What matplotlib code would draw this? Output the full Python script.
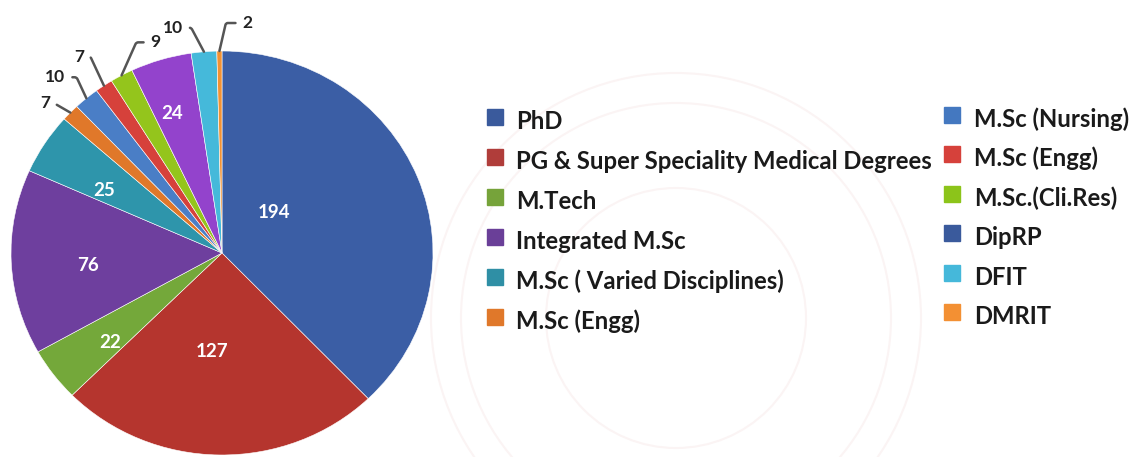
import numpy as np
import matplotlib.pyplot as plt
from matplotlib.patches import Rectangle, Circle

plt.rcParams['font.family'] = ['Lato', 'DejaVu Sans']

# slices, clockwise from 12 o'clock
values = [194, 127, 22, 76, 25, 7, 10, 7, 9, 24, 10, 2]
slice_colors = ['#3b5ea5', '#b5352e', '#74a83a', '#6e3f9e', '#2e95ab', '#e0782a',
                '#4a7ec6', '#d6413b', '#94c51c', '#9343cc', '#45b9da', '#f29233']

legend_left = ['PhD', 'PG & Super Speciality Medical Degrees', 'M.Tech',
               'Integrated M.Sc', 'M.Sc ( Varied Disciplines)', 'M.Sc (Engg)']
legend_left_colors = ['#3a5a9c', '#b03d3a', '#76a33a', '#6a3f98', '#2f8fa5', '#e0782a']
legend_right = ['M.Sc (Nursing)', 'M.Sc (Engg)', 'M.Sc.(Cli.Res)', 'DipRP', 'DFIT', 'DMRIT']
legend_right_colors = ['#4478c0', '#d6413b', '#8cc41a', '#3a5a9c', '#45b8da', '#f39033']

# which slices get the number inside, and which get a leader line
inside_idx = [0, 1, 2, 3, 4, 9]
inside_pos = [(0.32, 17), (0.49, -5), (0.69, 3), (0.64, 3), (0.64, 4), (0.73, 2)]  # radius, angle nudge
outside_idx = [5, 6, 7, 8, 10, 11]
outside_off = [(-25, 10), (-31, 21), (-25, 29), (34, 33), (-31, 24), (28, 28)]  # pixels
outside_angB = [150, 115, 115, 66, 118, 77]

W, H = 1132, 457
fig = plt.figure(figsize=(W / 100, H / 100), dpi=100)

bg = fig.add_axes([0, 0, 1, 1])
bg.set_xlim(0, W)
bg.set_ylim(H, 0)
bg.axis('off')

# faint seal in the background
for r in (245, 215, 130):
    bg.add_patch(Circle((676, 318), r, fill=False, ec='#fbf4f4', lw=1.5))

ax = fig.add_axes([11 / W, 2 / H, 422 / W, 404 / H])
wedges, _ = ax.pie(values, colors=slice_colors, startangle=90, counterclock=False,
                   wedgeprops=dict(edgecolor='white', linewidth=0.4))
ax.set_aspect('auto')
ax.set_xlim(-1, 1)
ax.set_ylim(-1, 1)

for i, (r, nudge) in zip(inside_idx, inside_pos):
    w = wedges[i]
    a = np.deg2rad((w.theta1 + w.theta2) / 2 + nudge)
    ax.text(r * np.cos(a), r * np.sin(a), str(values[i]), color='white',
            fontsize=13.5, fontweight='bold', ha='center', va='center')

for i, off, angB in zip(outside_idx, outside_off, outside_angB):
    w = wedges[i]
    a = np.deg2rad((w.theta1 + w.theta2) / 2)
    ax.annotate(str(values[i]), xy=(np.cos(a), np.sin(a)), xytext=off,
                textcoords='offset pixels', ha='center', va='center',
                fontsize=12.5, fontweight='bold', color='#222222',
                arrowprops=dict(arrowstyle='-', color='#555555', lw=1.8,
                                shrinkA=3, shrinkB=0,
                                connectionstyle=f'angle,angleA=0,angleB={angB},rad=2'))

# legend, two columns
for j, (lab, col) in enumerate(zip(legend_left, legend_left_colors)):
    y = 129 + 40 * j
    bg.add_patch(Rectangle((487, y - 20), 16, 16, color=col))
    bg.text(516, y, lab, fontsize=17.2, fontweight='bold', color='#1a1a1a', va='baseline')

for j, (lab, col) in enumerate(zip(legend_right, legend_right_colors)):
    y = 127 + 39.4 * j
    bg.add_patch(Rectangle((944, y - 20), 16, 16, color=col))
    bg.text(974, y, lab, fontsize=17.2, fontweight='bold', color='#1a1a1a', va='baseline')

fig.savefig('out.png', dpi=100)
